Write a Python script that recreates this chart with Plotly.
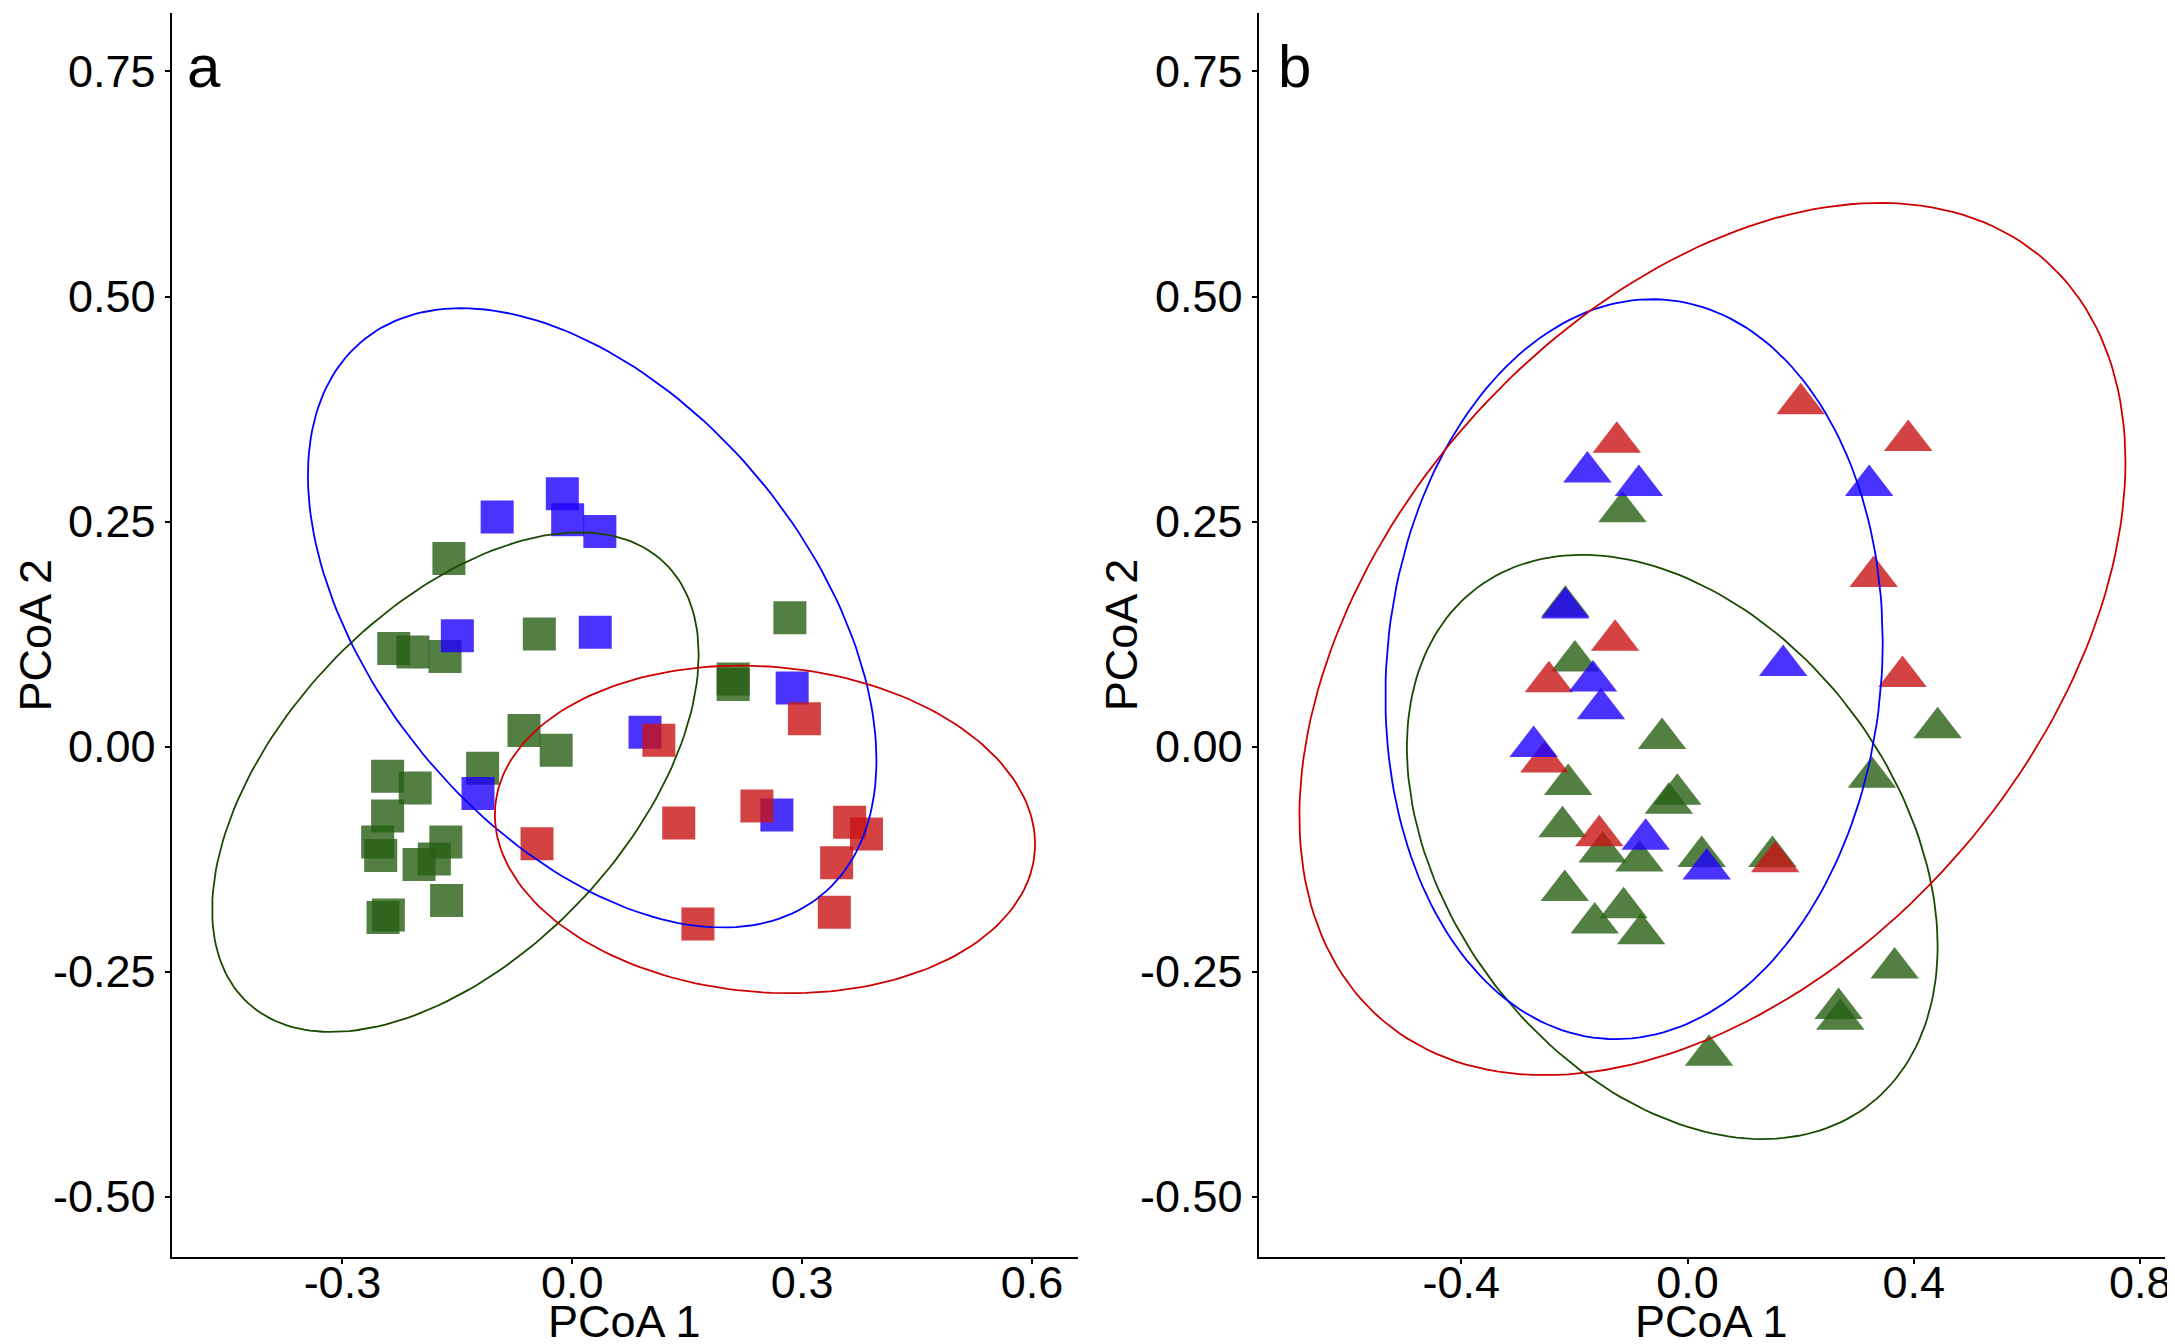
import numpy as np
import plotly.graph_objects as go

# ---- panel a: squares ----
a_green_x = [-0.161, -0.233, -0.208, -0.166, -0.043, -0.063, -0.021, -0.117, -0.241, -0.205, -0.241,
             -0.254, -0.250, -0.165, -0.200, -0.180, -0.164, -0.247, -0.240, 0.210, 0.210, 0.284]
a_green_y = [0.209, 0.109, 0.105, 0.100, 0.125, 0.018, -0.004, -0.024, -0.033, -0.046, -0.077,
             -0.106, -0.121, -0.106, -0.131, -0.125, -0.171, -0.190, -0.187, 0.075, 0.069, 0.143]
a_blue_x = [-0.098, -0.013, -0.006, 0.036, -0.150, 0.030, -0.123, 0.095, 0.287, 0.267]
a_blue_y = [0.255, 0.281, 0.252, 0.239, 0.123, 0.127, -0.052, 0.016, 0.065, -0.076]
a_red_x = [0.113, 0.139, -0.046, 0.241, 0.303, 0.164, 0.362, 0.384, 0.345, 0.342]
a_red_y = [0.007, -0.085, -0.108, -0.066, 0.031, -0.197, -0.084, -0.097, -0.129, -0.184]

# ---- panel b: triangles ----
b_green_x = [-0.115, -0.216, -0.199, -0.045, -0.211, -0.018, -0.033, -0.221, -0.150, -0.085, 0.025,
             0.150, -0.217, -0.113, -0.164, -0.082, 0.326, 0.442, 0.366, 0.267, 0.270, 0.038]
b_green_y = [0.261, 0.156, 0.095, 0.009, -0.042, -0.053, -0.063, -0.089, -0.117, -0.127, -0.122,
             -0.122, -0.160, -0.179, -0.196, -0.208, -0.034, 0.021, -0.246, -0.291, -0.303, -0.343]
b_red_x = [0.200, -0.125, 0.390, 0.329, -0.128, -0.245, 0.380, -0.253, -0.156, 0.155]
b_red_y = [0.381, 0.338, 0.340, 0.189, 0.118, 0.072, 0.078, -0.017, -0.099, -0.128]
b_blue_x = [-0.177, -0.086, 0.321, -0.216, -0.167, -0.153, 0.169, -0.272, -0.074, 0.034]
b_blue_y = [0.305, 0.290, 0.290, 0.154, 0.073, 0.042, 0.090, 0.000, -0.103, -0.136]

# ellipse parameters: centre x, centre y, half-width, half-height, correlation
a_ell = {
    "green": (-0.1525, -0.0395, 0.3175, 0.2775, 0.51),
    "blue": (0.026, 0.143, 0.371, 0.344, -0.46),
    "red": (0.2515, -0.092, 0.3525, 0.182, -0.09),
}
b_ell = {
    "green": (-0.027, -0.1115, 0.469, 0.3245, -0.34),
    "blue": (-0.0945, 0.086, 0.4395, 0.411, 0.073),
    "red": (0.044, 0.1195, 0.730, 0.4845, 0.406),
}

y_ticks = [-0.50, -0.25, 0.00, 0.25, 0.50, 0.75]
a_x_ticks = [-0.3, 0.0, 0.3, 0.6]
b_x_ticks = [-0.4, 0.0, 0.4, 0.8]

fill = {"green": "rgba(40,95,20,0.8)", "blue": "rgba(30,0,255,0.8)", "red": "rgba(200,20,20,0.8)"}
line_col = {"green": "#1a4a00", "blue": "#0000ff", "red": "#cc0000"}


def ellipse(cx, cy, sx, sy, r, n=200):
    t = np.linspace(0, 2 * np.pi, n)
    x = cx + sx * np.cos(t)
    y = cy + sy * (r * np.cos(t) + np.sqrt(1 - r * r) * np.sin(t))
    return x, y


fig = go.Figure()

# panel a points + ellipses
for name, xs, ys in [("green", a_green_x, a_green_y), ("blue", a_blue_x, a_blue_y), ("red", a_red_x, a_red_y)]:
    fig.add_trace(go.Scatter(x=xs, y=ys, mode="markers", xaxis="x", yaxis="y",
                             marker=dict(symbol="square", size=33, color=fill[name], line=dict(width=0))))
for name, p in a_ell.items():
    ex, ey = ellipse(*p)
    fig.add_trace(go.Scatter(x=ex, y=ey, mode="lines", xaxis="x", yaxis="y",
                             line=dict(color=line_col[name], width=1.8)))

# panel b points + ellipses
for name, xs, ys in [("green", b_green_x, b_green_y), ("red", b_red_x, b_red_y), ("blue", b_blue_x, b_blue_y)]:
    fig.add_trace(go.Scatter(x=xs, y=ys, mode="markers", xaxis="x2", yaxis="y2",
                             marker=dict(symbol="triangle-up", size=42, color=fill[name], line=dict(width=0))))
for name, p in b_ell.items():
    ex, ey = ellipse(*p)
    fig.add_trace(go.Scatter(x=ex, y=ey, mode="lines", xaxis="x2", yaxis="y2",
                             line=dict(color=line_col[name], width=1.8)))

tick_font = dict(family="Liberation Sans, Arial", size=45, color="black")
ax_common = dict(showgrid=False, zeroline=False, showline=True, linecolor="black", linewidth=2,
                 ticks="outside", ticklen=5, tickwidth=2, tickcolor="black", tickfont=tick_font)

fig.update_layout(
    width=2175, height=1344,
    margin=dict(l=0, r=0, t=0, b=0),
    paper_bgcolor="white", plot_bgcolor="white",
    showlegend=False,
    xaxis=dict(domain=[0.0754, 0.4933], range=[-0.523, 0.660], tickvals=a_x_ticks,
               ticktext=[f"{v:.1f}" for v in a_x_ticks], anchor="y", ticklabelstandoff=-20, **ax_common),
    yaxis=dict(domain=[0.0707, 0.9963], range=[-0.567, 0.815], tickvals=y_ticks,
               ticktext=[f"{v:.2f}" for v in y_ticks], anchor="x", **ax_common),
    xaxis2=dict(domain=[0.5766, 0.9945], range=[-0.758, 0.844], tickvals=b_x_ticks,
                ticktext=[f"{v:.1f}" for v in b_x_ticks], anchor="y2", ticklabelstandoff=-20, **ax_common),
    yaxis2=dict(domain=[0.0707, 0.9963], range=[-0.567, 0.815], tickvals=y_ticks,
                ticktext=[f"{v:.2f}" for v in y_ticks], anchor="x2", **ax_common),
)

title_font = dict(family="Liberation Sans, Arial", size=45, color="black")
label_font = dict(family="Liberation Sans, Arial", size=60, color="black")
fig.add_annotation(text="PCoA 1", xref="x domain", x=0.5, yref="paper", y=0.002,
                   xanchor="center", yanchor="bottom", showarrow=False, font=title_font)
fig.add_annotation(text="PCoA 1", xref="x2 domain", x=0.5, yref="paper", y=0.002,
                   xanchor="center", yanchor="bottom", showarrow=False, font=title_font)
fig.add_annotation(text="PCoA 2", xref="paper", x=0.0, yref="y domain", y=0.5, textangle=-90,
                   xanchor="left", yanchor="middle", showarrow=False, font=title_font)
fig.add_annotation(text="PCoA 2", xref="paper", x=0.5011, yref="y2 domain", y=0.5, textangle=-90,
                   xanchor="left", yanchor="middle", showarrow=False, font=title_font)
fig.add_annotation(text="a", xref="x domain", x=0.036, yref="y", y=0.756,
                   xanchor="center", yanchor="middle", showarrow=False, font=label_font)
fig.add_annotation(text="b", xref="x2 domain", x=0.0396, yref="y2", y=0.756,
                   xanchor="center", yanchor="middle", showarrow=False, font=label_font)

fig.write_html("out.html")
